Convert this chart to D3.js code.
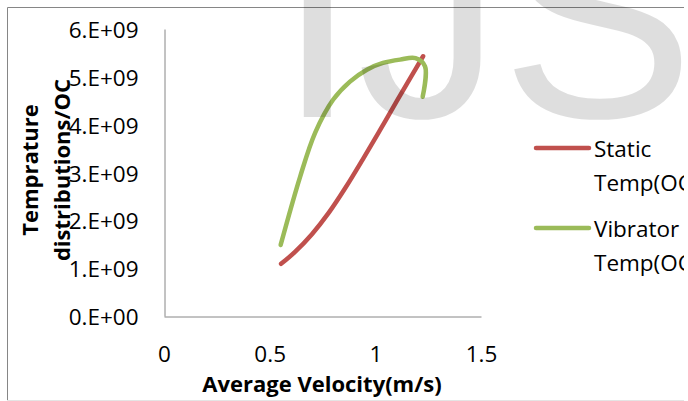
<!DOCTYPE html>
<html>
<head>
<meta charset="utf-8">
<script src="https://cdn.jsdelivr.net/npm/d3@7"></script>
<style>
  body { margin: 0; background: #fff; }
  svg { display: block; }
</style>
</head>
<body>
<svg id="drawing_region"></svg>
<script>
// values
const seriesNames = ['Static Temp(OC)', 'Vibrator Temp(OC)']
const staticVel = [0.554, 0.62, 0.70, 0.78, 0.86, 0.94, 1.02, 1.10, 1.17, 1.226]
const staticTemp = [1.09e9, 1.34e9, 1.71e9, 2.16e9, 2.69e9, 3.27e9, 3.87e9, 4.48e9, 5.01e9, 5.43e9]
const vibVel = [0.552, 0.644, 0.715, 0.80, 0.88, 0.96, 1.036, 1.117, 1.19, 1.235, 1.224]
const vibTemp = [1.485e9, 2.91e9, 3.83e9, 4.52e9, 4.9e9, 5.15e9, 5.29e9, 5.36e9, 5.39e9, 5.22e9, 4.585e9]
const xTicks = [0, 0.5, 1, 1.5]
const yTicks = [0, 1e9, 2e9, 3e9, 4e9, 5e9, 6e9]
const watermark = ['I', 'J', 'S']

class ScatterLines{
    constructor(config){
        this.config = {
            parent: config.parent,
            width: config.width || 688,
            height: config.height || 401,
            plot: config.plot
        }
        this.init()
    }

    init(){
        let self = this
        const p = self.config.plot

        self.svg = d3.select(self.config.parent)
            .attr('width', self.config.width)
            .attr('height', self.config.height)

        self.svg.append('defs').append('clipPath').attr('id', 'chartclip')
            .append('rect').attr('x', 0).attr('y', 0).attr('width', 684).attr('height', 401)

        self.root = self.svg.append('g').attr('clip-path', 'url(#chartclip)')

        self.xscale = d3.scaleLinear().domain([0, 1.5]).range([p.left, p.right])
        self.yscale = d3.scaleLinear().domain([0, 6e9]).range([p.bottom, p.top])

        self.line = d3.line()
            .x(d => self.xscale(d[0]))
            .y(d => self.yscale(d[1]))
            .curve(d3.curveCatmullRom.alpha(0.5))
    }

    render(){
        let self = this
        const font = "'Open Sans', sans-serif"
        const colors = ['#c0504d', '#9bbb59']

        // chart border
        self.root.append('path')
            .attr('d', 'M7.5,400 L7.5,7.5 L690,7.5')
            .attr('fill', 'none').attr('stroke', '#868686')
        self.root.append('line')
            .attr('x1', 7).attr('x2', 690).attr('y1', 400.5).attr('y2', 400.5)
            .attr('stroke', '#e4e4e4')

        // axes
        const xaxis = d3.axisBottom(self.xscale).tickValues(xTicks).tickSize(0).tickPadding(26)
            .tickFormat(d => d3.format('')(d))
        const yaxis = d3.axisLeft(self.yscale).tickValues(yTicks).tickSize(0).tickPadding(26)
            .tickFormat(d => (d / 1e9).toFixed(0) + '.E+' + (d === 0 ? '00' : '09'))

        const xg = self.root.append('g')
            .attr('transform', `translate(0,${self.config.plot.bottom + 0.5})`)
            .call(xaxis)
        const yg = self.root.append('g')
            .attr('transform', `translate(${self.config.plot.left + 0.5},0)`)
            .call(yaxis)

        ;[xg, yg].forEach(g => {
            g.select('.domain').attr('stroke', '#868686')
            g.selectAll('text')
                .attr('font-family', font)
                .attr('font-size', 22.5)
                .attr('fill', '#000')
        })
        xg.selectAll('text').attr('dy', null).attr('y', 37).attr('dominant-baseline', 'central')
        yg.selectAll('text').attr('dy', null).attr('dominant-baseline', 'central')

        // series
        const series = [
            d3.zip(staticVel, staticTemp),
            d3.zip(vibVel, vibTemp)
        ]
        self.root.selectAll('path.series').data(series).enter()
            .append('path')
            .attr('class', 'series')
            .attr('d', d => self.line(d))
            .attr('fill', 'none')
            .attr('stroke', (d, i) => colors[i])
            .attr('stroke-width', 4.5)
            .attr('stroke-linecap', 'round')
            .attr('stroke-linejoin', 'round')

        // axis titles
        self.root.append('text')
            .attr('x', 322).attr('y', 383)
            .attr('text-anchor', 'middle')
            .attr('dominant-baseline', 'central')
            .attr('font-family', font).attr('font-weight', 'bold').attr('font-size', 22)
            .text('Average Velocity(m/s)')

        const ytitle = self.root.append('text')
            .attr('transform', 'translate(29,170) rotate(-90)')
            .attr('text-anchor', 'middle')
            .attr('dominant-baseline', 'central')
            .attr('font-family', font).attr('font-weight', 'bold').attr('font-size', 22)
        ytitle.append('tspan').attr('x', 0).attr('y', 0).text('Temprature')
        ytitle.append('tspan').attr('x', 0).attr('y', 32).text('distributions/OC')

        // legend
        const legendY = [148, 228]
        const leg = self.root.selectAll('g.legend').data(seriesNames).enter()
            .append('g').attr('class', 'legend')
            .attr('transform', (d, i) => `translate(0,${legendY[i]})`)
        leg.append('line')
            .attr('x1', 536).attr('x2', 589).attr('y1', 0).attr('y2', 0)
            .attr('stroke', (d, i) => colors[i])
            .attr('stroke-width', 4.5)
            .attr('stroke-linecap', 'round')
        const lt = leg.append('text')
            .attr('font-family', font).attr('font-size', 22.5)
            .attr('dominant-baseline', 'central')
        lt.append('tspan').attr('x', 594).attr('y', 0).text(d => d.split(' ')[0])
        lt.append('tspan').attr('x', 594).attr('y', 34).text(d => d.split(' ')[1])

        // watermark laid over the chart
        const wmX = [277, 357, 501]
        self.root.selectAll('text.wm').data(watermark).enter()
            .append('text')
            .attr('class', 'wm')
            .attr('x', (d, i) => wmX[i]).attr('y', 117)
            .attr('font-family', "'Liberation Sans', Arial, sans-serif")
            .attr('font-size', 290)
            .attr('fill', '#000').attr('fill-opacity', 0.13)
            .text(d => d)
    }
}

const chart = new ScatterLines({
    parent: '#drawing_region',
    width: 688,
    height: 401,
    plot: {left: 164, right: 481, top: 29, bottom: 316}
})
chart.render()
</script>
</body>
</html>
